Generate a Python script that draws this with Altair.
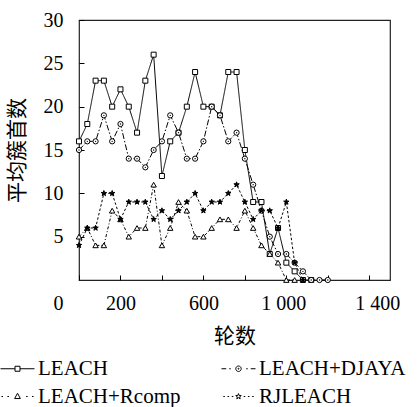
import math
import altair as alt
import pandas as pd

# ---------------- data ----------------
rounds = list(range(0, 1201, 40))
series_names = ["LEACH", "LEACH+DJAYA", "LEACH+Rcomp", "RJLEACH"]
leach = [16, 18, 23, 23, 20, 22, 20, 17, 23, 26,
         12, 16, 17, 20, 24, 20, 20, 19, 24, 24,
         15, 9, 9, 3, 6, 2, 1, 0, 0]
djaya = [15, 16, 16, 19, 16, 18, 14, 14, 13, 15,
         16, 19, 17, 14, 14, 16, 20, 19, 16, 17,
         14, 11, 8, 5, 3, 3, 2, 1, 0, 0, 0]
rcomp = [5, 6, 4, 4, 8, 7, 5, 6, 6, 11,
         4, 6, 9, 8, 5, 5, 6, 7, 7, 6,
         8, 6, 4, 3, 2, 0, 0]
rjleach = [4, 6, 6, 10, 10, 7, 9, 9, 9, 7,
           8, 7, 8, 9, 10, 8, 9, 9, 10, 11,
           9, 7, 8, 8, 6, 9, 2, 0]
x_tick_values = [0, 200, 400, 600, 800, 1000, 1200, 1400]
x_tick_labels = {0: "0", 200: "200", 600: "600", 1000: "1 000", 1400: "1 400"}
y_tick_values = [5, 10, 15, 20, 25, 30]

rows = []
for name, vals in zip(series_names, [leach, djaya, rcomp, rjleach]):
    for r, v in zip(rounds, vals):
        rows.append({"round": r, "value": v, "series": name})
df = pd.DataFrame(rows)

# ---------------- styles ----------------
SERIF = "Liberation Serif"
CJK = "Noto Sans CJK SC"


def star_path(R, r0, cx=0.0):
    pts = []
    for i in range(10):
        ang = -math.pi / 2 + i * math.pi / 5
        rad = R if i % 2 == 0 else r0
        pts.append((cx + rad * math.cos(ang), rad * math.sin(ang)))
    return "M" + "L".join(f"{x:.3f},{y:.3f}" for x, y in pts) + "Z"


def seg(a, b):
    return f"M{a:.3f},0H{b:.3f}"


def circ(r, cx=0.0):
    return (f"M{cx + r:.3f},0A{r:.3f},{r:.3f},0,1,1,{cx - r:.3f},0"
            f"A{r:.3f},{r:.3f},0,1,1,{cx + r:.3f},0Z")


m = 0.147
sq = f"M{-m:.3f},{-m:.3f}H{m:.3f}V{m:.3f}H{-m:.3f}Z"
tri = "M0,-0.19L0.17,0.12L-0.17,0.12Z"
dot = 0.045
legend_paths = [
    seg(-1, -m) + seg(m, 1) + sq,
    seg(-1, -0.72) + seg(-0.5 - dot, -0.5 + dot) + circ(0.16) + circ(0.03)
    + seg(0.5 - dot, 0.5 + dot) + seg(0.72, 1),
    seg(-0.9 - dot, -0.9 + dot) + seg(-0.55 - dot, -0.55 + dot) + tri
    + seg(0.55 - dot, 0.55 + dot) + seg(0.9 - dot, 0.9 + dot),
    "".join(seg(s * p - dot, s * p + dot) for p in (0.35, 0.6, 0.85) for s in (-1, 1))
    + star_path(0.17, 0.07),
]

label_expr = " : ".join(
    f"datum.value == {k} ? '{v}'" for k, v in x_tick_labels.items()
) + " : ''"

x_enc = alt.X(
    "round:Q",
    scale=alt.Scale(domain=[0, 1500], nice=False, zero=False),
    axis=alt.Axis(
        values=x_tick_values, labelExpr=label_expr, labelFlush=False,
        labelOverlap=False, title="轮数", titleFont=CJK, titleFontSize=21,
        titleFontWeight="normal", titleColor="black", titlePadding=12,
        labelFont=SERIF, labelFontSize=20, labelColor="black", labelPadding=18,
        tickSize={"expr": "-5"}, tickColor="black", tickWidth=1,
        grid=False, domain=False,
        labelOffset={"condition": [{"test": "datum.value == 0", "value": -21},
                                   {"test": "datum.value == 1000", "value": -3},
                                   {"test": "datum.value == 1400", "value": 8}],
                     "value": 0},
    ),
)
y_enc = alt.Y(
    "value:Q",
    scale=alt.Scale(domain=[0, 30], nice=False),
    axis=alt.Axis(
        values=y_tick_values, title="平均簇首数", titleFont=CJK, titleFontSize=21,
        titleFontWeight="normal", titleColor="black", titlePadding=16,
        labelFont=SERIF, labelFontSize=20, labelColor="black", labelPadding=21,
        tickSize={"expr": "-5"}, tickColor="black", tickWidth=1,
        grid=False, domain=False,
    ),
)

base = alt.Chart(df)

lines = base.mark_line(color="black", strokeWidth=1).encode(
    x=x_enc, y=y_enc,
    detail="series:N",
    strokeDash=alt.StrokeDash(
        "series:N",
        scale=alt.Scale(domain=series_names,
                        range=[[1, 0], [6, 2, 1.5, 2], [3, 2, 1, 2], [2.5, 2]]),
        legend=None,
    ),
)

markers = base.mark_point(stroke="black", strokeWidth=1, opacity=1).encode(
    x=x_enc, y=y_enc,
    shape=alt.Shape("series:N",
                    scale=alt.Scale(domain=series_names,
                                    range=["square", "circle", "triangle-up",
                                           star_path(1, 0.4)]),
                    legend=None),
    fill=alt.Fill("series:N",
                  scale=alt.Scale(domain=series_names,
                                  range=["white", "white", "white", "black"]),
                  legend=None),
    size=alt.Size("series:N",
                  scale=alt.Scale(domain=series_names, range=[25, 32, 34, 45]),
                  legend=None),
)

dots = base.transform_filter("datum.series == 'LEACH+DJAYA'").mark_point(
    filled=True, color="black", size=2, shape="circle", opacity=1
).encode(x=x_enc, y=y_enc)

legend_layer = base.transform_filter("datum.value < 0").mark_point(
    color="black", strokeWidth=1
).encode(
    shape=alt.Shape(
        "series:N",
        scale=alt.Scale(domain=series_names, range=legend_paths),
        legend=alt.Legend(
            title=None, orient="none", legendX=-79, legendY=331, columns=2,
            direction="horizontal",
            columnPadding=38, rowPadding=0, symbolSize=1156,
            symbolStrokeWidth=1, symbolStrokeColor="black",
            symbolFillColor="transparent", symbolOpacity=1,
            labelFont=SERIF, labelFontSize=21, labelColor="black", labelOffset=3,
        ),
    )
)

chart = (
    alt.layer(lines, markers, dots, legend_layer)
    .resolve_scale(shape="independent")
    .properties(
        width=311, height=260, autosize="none",
        padding={"left": 79, "top": 20, "right": 30, "bottom": 127},
        background="white",
    )
    .configure_view(stroke="#222", strokeWidth=1.2)
)

chart.save("out.html", embed_options={"renderer": "svg", "actions": False})
